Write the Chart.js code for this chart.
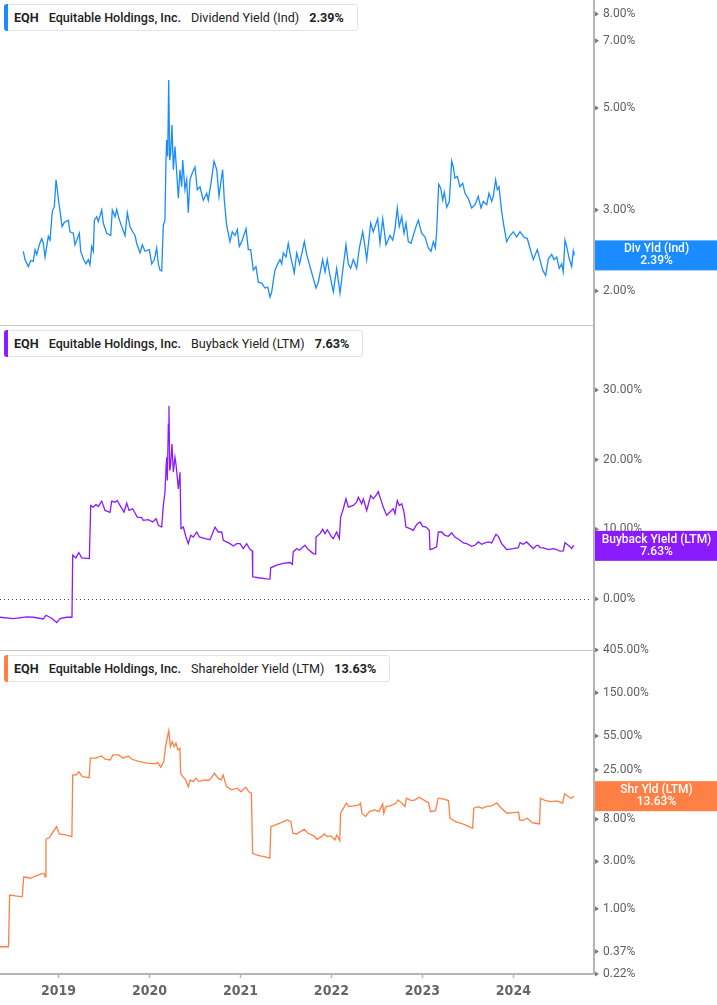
<!DOCTYPE html>
<html><head><meta charset="utf-8">
<script src="https://cdn.jsdelivr.net/npm/chart.js@4.4.1/dist/chart.umd.min.js"></script>
<style>
html,body{margin:0;padding:0;background:#fff;}
#wrap{position:relative;width:717px;height:1005px;overflow:hidden;font-family:Roboto,"Noto Sans",sans-serif;}
canvas{position:absolute;left:0;}
.hdr{position:absolute;left:4px;height:27px;border:1px solid #e3e3e3;border-radius:3px;background:#fff;display:flex;align-items:center;padding:0 13px 0 9px;font-size:12.6px;color:#222;box-sizing:border-box;z-index:2;}
.hdr .bar{position:absolute;left:-1px;top:-1px;bottom:-1px;width:4px;border-radius:3px 0 0 3px;}
.hdr span{margin-right:10px;white-space:nowrap}
.hdr span:last-child{margin-right:0}
.b{font-weight:700}
.m{font-weight:500}
.sep{position:absolute;left:0;width:594px;height:1px;background:#c6c6c6;z-index:1}
</style></head>
<body>
<div id="wrap">
  <canvas id="c1" width="717" height="325" style="top:0px"></canvas>
  <canvas id="c2" width="717" height="325" style="top:325px"></canvas>
  <canvas id="c3" width="717" height="365" style="top:640px"></canvas>
  <div class="sep" style="top:325px"></div>
  <div class="sep" style="top:650px"></div>
  <div class="hdr" style="top:4px"><i class="bar" style="background:#1a8cff"></i><span class="b">EQH</span><span class="m">Equitable Holdings, Inc.</span><span>Dividend Yield (Ind)</span><span class="b" id="v1"></span></div>
  <div class="hdr" style="top:330px"><i class="bar" style="background:#8c1aff"></i><span class="b">EQH</span><span class="m">Equitable Holdings, Inc.</span><span>Buyback Yield (LTM)</span><span class="b" id="v2"></span></div>
  <div class="hdr" style="top:655px"><i class="bar" style="background:#ff7f45"></i><span class="b">EQH</span><span class="m">Equitable Holdings, Inc.</span><span>Shareholder Yield (LTM)</span><span class="b" id="v3"></span></div>
</div>
<script>
// ---------- DATA (dates as decimal years, values in %) ----------
const yearTicks = [2019, 2020, 2021, 2022, 2023, 2024];
const xMin = 2018.358, xMax = 2024.886;

const divTicks = [2, 3, 5, 7, 8];
const buyTicks = [0, 10, 20, 30];
const shrTicks = [0.22, 0.37, 1, 3, 8, 25, 55, 150, 405];

const divDates = [
 2018.614,2018.633,2018.669,2018.696,2018.724,2018.743,2018.762,2018.790,2018.816,2018.834,
 2018.853,2018.889,2018.908,2018.933,2018.955,2018.974,2018.988,2019.003,2019.018,2019.040,
 2019.065,2019.109,2019.127,2019.164,2019.182,2019.208,2019.230,2019.245,2019.274,2019.303,
 2019.329,2019.347,2019.366,2019.384,2019.395,2019.421,2019.438,2019.476,2019.493,2019.531,
 2019.575,2019.592,2019.622,2019.641,2019.666,2019.696,2019.732,2019.757,2019.787,2019.816,
 2019.842,2019.860,2019.897,2019.922,2019.952,2019.999,2020.025,2020.054,2020.080,2020.098,
 2020.116,2020.135,2020.153,2020.171,2020.182,2020.190,2020.201,2020.212,2020.223,2020.234,
 2020.248,2020.263,2020.281,2020.300,2020.318,2020.336,2020.355,2020.366,2020.391,2020.410,
 2020.427,2020.446,2020.471,2020.501,2020.526,2020.556,2020.592,2020.630,2020.647,2020.685,
 2020.710,2020.740,2020.765,2020.784,2020.805,2020.823,2020.849,2020.886,2020.911,2020.941,
 2020.966,2020.988,2021.014,2021.062,2021.087,2021.113,2021.142,2021.171,2021.197,2021.234,
 2021.270,2021.300,2021.325,2021.344,2021.362,2021.380,2021.405,2021.435,2021.454,2021.471,
 2021.501,2021.526,2021.545,2021.564,2021.592,2021.619,2021.650,2021.703,2021.729,2021.765,
 2021.801,2021.831,2021.856,2021.904,2021.930,2021.955,2021.977,2022.021,2022.058,2022.095,
 2022.120,2022.160,2022.186,2022.212,2022.241,2022.278,2022.307,2022.344,2022.369,2022.388,
 2022.432,2022.460,2022.509,2022.534,2022.564,2022.600,2022.644,2022.674,2022.699,2022.724,
 2022.746,2022.773,2022.798,2022.820,2022.845,2022.875,2022.900,2022.930,2022.955,2022.992,
 2023.029,2023.065,2023.095,2023.120,2023.142,2023.157,2023.179,2023.201,2023.223,2023.241,
 2023.267,2023.296,2023.322,2023.340,2023.358,2023.384,2023.413,2023.443,2023.468,2023.504,
 2023.542,2023.578,2023.614,2023.644,2023.669,2023.707,2023.732,2023.762,2023.779,2023.805,
 2023.823,2023.842,2023.871,2023.897,2023.926,2023.963,2023.999,2024.036,2024.073,2024.116,
 2024.153,2024.182,2024.219,2024.263,2024.292,2024.322,2024.355,2024.384,2024.421,2024.446,
 2024.476,2024.504,2024.531,2024.548,2024.567,2024.586,2024.614,2024.641,2024.658,2024.666
];
const divYield = [
 2.44,2.34,2.26,2.33,2.32,2.46,2.40,2.52,2.60,2.54,
 2.37,2.63,2.58,2.98,3.05,3.49,3.32,3.13,2.98,2.76,
 2.82,2.85,2.69,2.67,2.52,2.60,2.67,2.44,2.35,2.29,
 2.34,2.28,2.50,2.44,2.85,2.90,2.83,3.00,2.81,2.67,
 2.64,3.00,2.90,3.01,2.87,2.76,2.64,2.96,2.76,2.69,
 2.64,2.54,2.42,2.52,2.44,2.46,2.29,2.34,2.48,2.29,
 2.22,2.21,2.78,2.85,3.85,4.26,3.92,5.75,3.85,3.98,
 4.59,3.67,4.12,3.61,3.18,3.67,3.37,3.85,3.32,3.49,
 2.96,3.49,3.61,3.72,3.32,3.37,3.15,3.26,3.15,3.52,
 3.83,3.67,3.21,3.43,3.67,3.15,2.78,2.56,2.69,2.64,
 2.72,2.50,2.56,2.73,2.46,2.46,2.22,2.26,2.09,2.08,
 2.03,2.04,1.94,1.99,2.11,2.22,2.28,2.34,2.29,2.42,
 2.37,2.54,2.42,2.32,2.19,2.42,2.29,2.56,2.40,2.26,
 2.13,2.03,2.09,2.34,2.20,2.34,2.20,1.99,2.24,1.98,
 2.18,2.52,2.29,2.24,2.34,2.24,2.48,2.69,2.50,2.34,
 2.81,2.69,2.87,2.54,2.87,2.52,2.64,2.58,2.73,3.03,
 2.76,2.90,2.67,2.81,2.56,2.54,2.64,2.76,2.85,2.67,
 2.62,2.48,2.44,2.56,2.48,2.69,3.41,3.35,3.15,3.28,
 3.04,3.13,3.83,3.72,3.52,3.55,3.37,3.43,3.26,3.18,
 3.03,3.08,3.21,3.03,3.13,3.08,3.26,3.13,3.21,3.49,
 3.32,3.37,2.98,2.76,2.56,2.64,2.69,2.62,2.69,2.62,
 2.60,2.48,2.34,2.46,2.34,2.22,2.16,2.35,2.40,2.34,
 2.37,2.24,2.29,2.20,2.58,2.50,2.35,2.26,2.44,2.39
];

const buyDates = [
 2018.358,2018.504,2018.652,2018.724,2018.834,2018.864,2018.926,2018.981,2019.018,2019.091,
 2019.149,2019.157,2019.193,2019.223,2019.256,2019.340,2019.355,2019.384,2019.413,2019.438,
 2019.476,2019.512,2019.567,2019.586,2019.622,2019.647,2019.677,2019.721,2019.751,2019.776,
 2019.816,2019.867,2019.915,2019.933,2019.988,2020.036,2020.073,2020.098,2020.135,2020.153,
 2020.171,2020.182,2020.190,2020.197,2020.208,2020.215,2020.223,2020.234,2020.248,2020.263,
 2020.281,2020.292,2020.318,2020.336,2020.347,2020.373,2020.402,2020.427,2020.454,2020.482,
 2020.520,2020.548,2020.611,2020.666,2020.721,2020.757,2020.795,2020.812,2020.849,2020.886,
 2020.922,2020.959,2020.996,2021.032,2021.069,2021.105,2021.131,2021.135,2021.197,2021.289,
 2021.325,2021.333,2021.399,2021.471,2021.545,2021.570,2021.581,2021.619,2021.647,2021.710,
 2021.746,2021.801,2021.827,2021.831,2021.875,2021.904,2021.930,2021.955,2022.003,2022.021,
 2022.058,2022.087,2022.102,2022.131,2022.160,2022.186,2022.241,2022.278,2022.296,2022.333,
 2022.351,2022.388,2022.432,2022.460,2022.490,2022.515,2022.534,2022.570,2022.607,2022.644,
 2022.680,2022.699,2022.724,2022.746,2022.773,2022.798,2022.820,2022.864,2022.900,2022.937,
 2022.974,2023.003,2023.040,2023.076,2023.084,2023.120,2023.157,2023.175,2023.212,2023.248,
 2023.285,2023.322,2023.358,2023.413,2023.449,2023.487,2023.542,2023.578,2023.614,2023.651,
 2023.688,2023.724,2023.762,2023.809,2023.834,2023.871,2023.926,2023.999,2024.054,2024.073,
 2024.109,2024.146,2024.182,2024.219,2024.256,2024.274,2024.292,2024.329,2024.384,2024.438,
 2024.476,2024.512,2024.548,2024.567,2024.603,2024.641,2024.658,2024.669
];
const buyYield = [
 -2.62,-2.81,-2.57,-2.62,-2.86,-2.33,-2.76,-3.38,-2.81,-2.62,
 -2.62,6.29,5.90,6.67,5.90,5.81,13.43,13.19,13.57,13.29,
 14.05,12.71,12.43,14.05,13.90,14.14,13.43,12.48,13.76,12.71,
 12.95,11.76,11.67,11.29,11.38,11.05,11.52,10.57,10.33,13.43,
 15.33,18.67,20.33,17.00,25.10,27.71,18.43,19.38,22.24,18.19,
 20.33,19.38,15.81,18.19,10.10,10.33,8.90,7.95,9.14,8.90,
 9.62,8.90,8.67,8.52,10.33,9.62,9.62,8.43,8.19,7.95,
 7.62,7.95,7.95,7.24,7.95,7.14,6.90,3.19,3.05,2.90,
 2.86,4.48,4.86,5.10,5.24,4.95,6.76,7.24,7.00,7.71,
 7.10,6.52,6.43,8.90,9.38,10.00,9.38,9.95,8.90,8.67,
 9.62,8.67,11.76,12.95,14.38,13.19,13.43,13.90,14.62,13.67,
 14.38,12.71,14.86,14.38,14.86,15.43,14.62,13.19,12.00,12.48,
 12.95,12.24,14.14,13.43,13.67,12.48,10.33,10.10,9.86,10.71,
 11.05,10.43,10.33,9.86,7.10,7.24,7.48,9.62,9.62,9.14,
 9.00,9.48,8.90,8.43,8.05,7.95,7.57,7.71,8.19,7.86,
 8.05,8.19,8.05,9.29,9.00,7.95,7.10,7.24,7.38,8.10,
 7.86,8.19,7.71,7.24,7.71,7.71,7.38,7.33,7.10,7.24,
 7.10,6.86,6.90,8.10,7.71,7.24,7.62,7.63
];

const shrDates = [
 2018.358,2018.451,2018.464,2018.526,2018.602,2018.619,2018.695,2018.779,2018.842,2018.855,
 2018.863,2018.905,2018.934,2018.980,2019.010,2019.074,2019.148,2019.157,2019.199,2019.224,
 2019.263,2019.338,2019.351,2019.410,2019.473,2019.514,2019.569,2019.599,2019.662,2019.712,
 2019.767,2019.809,2019.893,2019.977,2020.062,2020.091,2020.124,2020.158,2020.175,2020.192,
 2020.213,2020.230,2020.251,2020.271,2020.292,2020.314,2020.335,2020.343,2020.368,2020.398,
 2020.427,2020.448,2020.482,2020.511,2020.545,2020.608,2020.651,2020.679,2020.713,2020.755,
 2020.789,2020.810,2020.848,2020.902,2020.966,2021.008,2021.058,2021.092,2021.121,2021.134,
 2021.176,2021.218,2021.260,2021.323,2021.335,2021.386,2021.449,2021.512,2021.555,2021.576,
 2021.618,2021.659,2021.702,2021.744,2021.807,2021.841,2021.891,2021.924,2021.954,2021.996,
 2022.038,2022.059,2022.092,2022.101,2022.143,2022.164,2022.193,2022.248,2022.303,2022.320,
 2022.336,2022.375,2022.416,2022.479,2022.522,2022.564,2022.576,2022.598,2022.648,2022.711,
 2022.732,2022.774,2022.808,2022.824,2022.879,2022.921,2022.964,2023.026,2023.068,2023.089,
 2023.144,2023.174,2023.236,2023.287,2023.303,2023.363,2023.426,2023.489,2023.552,2023.565,
 2023.615,2023.657,2023.699,2023.763,2023.816,2023.867,2023.931,2023.993,2024.057,2024.069,
 2024.099,2024.154,2024.204,2024.246,2024.288,2024.297,2024.351,2024.414,2024.477,2024.541,
 2024.562,2024.603,2024.633,2024.666
];
const shrYield = [
 0.414,0.414,1.375,1.345,1.32,2.10,2.03,2.19,2.28,2.10,
 5.01,5.25,5.84,6.72,5.67,5.54,5.33,22.3,22.3,24.1,
 21.4,20.9,32.9,32.9,34.7,32.1,31.6,35.5,35.5,32.9,
 34.7,32.1,30.4,29.3,28.8,29.7,26.7,30.4,41.5,50.3,
 62.4,43.0,48.3,43.0,46.6,39.9,41.5,23.2,21.4,19.9,
 17.0,19.9,19.1,20.7,19.1,19.9,19.6,20.7,23.2,20.7,
 19.9,22.3,17.0,15.8,16.4,15.1,16.8,15.1,14.6,3.62,
 3.48,3.41,3.35,3.23,6.72,6.99,7.37,7.85,7.55,5.76,
 5.67,5.98,6.32,5.76,5.42,5.01,5.33,5.67,5.33,5.42,
 4.93,5.54,4.85,9.17,10.7,11.6,10.7,10.9,11.1,11.6,
 9.17,8.48,9.52,9.90,9.52,11.4,9.17,10.7,10.9,11.6,
 12.5,11.6,10.7,13.0,12.3,12.5,13.3,12.3,11.7,9.52,
 9.75,13.0,12.7,12.3,8.17,7.55,7.27,6.88,6.47,10.3,
 10.7,10.3,10.7,10.9,11.7,10.3,9.17,9.3,9.39,7.85,
 7.72,8.17,7.37,7.27,7.15,13.0,12.3,12.0,12.2,11.6,
 14.4,13.5,13.0,13.63
];

// ---------- RENDER ----------
const AXIS_W = 123;
const AXIS_COL = '#b5b5b5';
const TICK_FONT = {family: 'Roboto, "Noto Sans", sans-serif', size: 12};
const pts = (xs, ys) => xs.map((x, i) => ({x: x, y: ys[i]}));

function deco(cfg) {
  return {
    id: 'deco',
    beforeDatasetsDraw(chart) {
      if (!cfg.zero) return;
      const {ctx, chartArea: a} = chart; const s = chart.scales.y;
      const py = Math.round(s.getPixelForValue(0)) + 0.5;
      ctx.save();
      ctx.strokeStyle = '#444'; ctx.lineWidth = 1; ctx.setLineDash([1, 3]);
      ctx.beginPath(); ctx.moveTo(a.left, py); ctx.lineTo(a.right - 2, py); ctx.stroke();
      ctx.restore();
    },
    afterDraw(chart) {
      const {ctx, chartArea: a} = chart; const s = chart.scales.y;
      ctx.save();
      ctx.fillStyle = '#7a7a7a';
      s.ticks.forEach(t => {
        const py = s.getPixelForValue(t.value);
        ctx.beginPath(); ctx.moveTo(a.right + 1, py - 2.5); ctx.lineTo(a.right + 5, py); ctx.lineTo(a.right + 1, py + 2.5); ctx.closePath(); ctx.fill();
      });
      const last = cfg.values[cfg.values.length - 1];
      const by = s.getPixelForValue(last);
      ctx.fillStyle = cfg.color;
      ctx.fillRect(a.right + 1, by - 15, chart.width - a.right, 30);
      ctx.fillStyle = '#fff';
      ctx.font = '500 12px Roboto, "Noto Sans", sans-serif';
      ctx.textAlign = 'center'; ctx.textBaseline = 'middle';
      const cx = (a.right + chart.width) / 2 + 1;
      ctx.fillText(cfg.label, cx, by - 6);
      ctx.fillText(last.toFixed(2) + '%', cx, by + 6);
      ctx.restore();
    }
  };
}

function makeChart(id, cfg) {
  return new Chart(document.getElementById(id), {
    type: 'line',
    data: {datasets: [{data: pts(cfg.dates, cfg.values), borderColor: cfg.color, borderWidth: 1.3, pointRadius: 0, tension: 0, fill: false}]},
    options: {
      responsive: false, animation: false, events: [],
      layout: {padding: {top: cfg.padTop || 0, left: 0, right: 0, bottom: 0}},
      plugins: {legend: {display: false}, tooltip: {enabled: false}},
      scales: {
        x: {
          type: 'linear', min: xMin, max: xMax, display: !!cfg.showX,
          afterBuildTicks: sc => { sc.ticks = yearTicks.map(v => ({value: v})); },
          afterFit: sc => { sc.height = cfg.showX ? 31 : 0; sc.paddingLeft = 0; sc.paddingRight = 0; },
          grid: {display: true, drawOnChartArea: false, drawTicks: true, tickLength: 4, tickWidth: 1.5, tickColor: AXIS_COL},
          border: {display: true, color: AXIS_COL, width: 2},
          ticks: {padding: 5, color: '#666', maxRotation: 0, autoSkip: false,
            font: {family: '"Liberation Sans Narrow", "DejaVu Sans Condensed", Roboto, sans-serif', size: 14, weight: 'bold'},
            callback: v => String(v)}
        },
        y: {
          type: cfg.yType, position: 'right', min: cfg.min, max: cfg.max,
          afterBuildTicks: sc => { sc.ticks = cfg.ticks.map(v => ({value: v})); },
          afterFit: sc => { sc.width = AXIS_W; sc.paddingTop = 0; sc.paddingBottom = 0; },
          grid: {display: false, drawTicks: false},
          border: {display: true, color: AXIS_COL, width: 2},
          ticks: {padding: 9, color: '#5f5f5f', font: TICK_FONT, autoSkip: false,
            callback: v => Number(v).toFixed(2) + '%'}
        }
      }
    },
    plugins: [deco(cfg)]
  });
}

makeChart('c1', {dates: divDates, values: divYield, color: '#1a8cff', label: 'Div Yld (Ind)',
  yType: 'logarithmic', min: 1.687, max: 8.58, ticks: divTicks});
makeChart('c2', {dates: buyDates, values: buyYield, color: '#8c1aff', label: 'Buyback Yield (LTM)',
  yType: 'linear', min: -7.32, max: 39.33, ticks: buyTicks, zero: true});
makeChart('c3', {dates: shrDates, values: shrYield, color: '#ff7f45', label: 'Shr Yld (LTM)',
  yType: 'logarithmic', min: 0.22, max: 405, ticks: shrTicks, showX: true, padTop: 10});

document.getElementById('v1').textContent = divYield[divYield.length - 1].toFixed(2) + '%';
document.getElementById('v2').textContent = buyYield[buyYield.length - 1].toFixed(2) + '%';
document.getElementById('v3').textContent = shrYield[shrYield.length - 1].toFixed(2) + '%';
</script>
</body></html>
